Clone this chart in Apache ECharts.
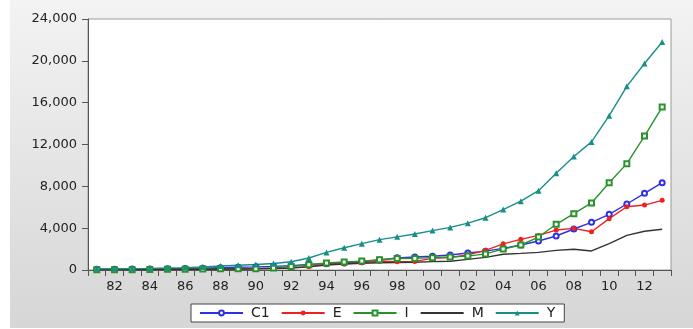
<!DOCTYPE html>
<html>
<head>
<meta charset="utf-8">
<script src="https://cdn.jsdelivr.net/npm/echarts@6/dist/echarts.min.js"></script>
<style>html,body{margin:0;padding:0;background:#fff;}#c{width:693px;height:329px;}</style>
</head>
<body>
<div id="c"></div>
<script>
var years = [];
for (var y = 1981; y <= 2013; y++) years.push(String(y).slice(2));
var seriesNames = ['C1', 'E', 'I', 'M', 'Y'];
var C1 = [65,75,85,100,125,140,170,220,270,300,350,420,540,600,680,780,960,1160,1240,1320,1430,1630,1800,2070,2390,2770,3250,3920,4560,5320,6310,7330,8350];
var E = [20,25,30,35,50,60,80,100,120,150,180,230,320,560,600,700,860,800,820,1110,1200,1450,1880,2500,2930,3310,3820,3980,3660,4910,6050,6210,6660];
var I = [25,30,35,45,60,70,90,120,110,130,200,330,500,680,760,850,980,1100,1110,1180,1250,1330,1540,2000,2390,3150,4370,5390,6410,8350,10170,12810,15580];
var M = [20,25,30,35,55,60,70,90,100,110,140,180,300,480,570,640,700,720,740,800,830,1020,1210,1500,1590,1690,1880,1980,1820,2520,3310,3700,3890];
var Y = [110,120,130,160,200,225,280,380,460,530,620,790,1150,1680,2130,2520,2900,3170,3440,3770,4070,4480,5000,5780,6580,7580,9250,10860,12250,14760,17560,19750,21800];
var yTicks = [0, 4000, 8000, 12000, 16000, 20000, 24000];

var font = 'DejaVu Sans';
var chart = echarts.init(document.getElementById('c'));
function mk(name, data, color, symbol, size) {
  return {
    name: name, type: 'line', data: data,
    symbol: symbol, symbolSize: size, showSymbol: symbol !== 'none',
    lineStyle: { color: color, width: 1.4 },
    itemStyle: { color: color, borderWidth: 1.1 },
    emphasis: { disabled: true }
  };
}
chart.setOption({
  animation: false,
  graphic: [{
    type: 'rect', left: 10, top: 0, z: -10,
    shape: { width: 683, height: 328 },
    style: { fill: new echarts.graphic.LinearGradient(0, 0, 0, 1, [
      { offset: 0, color: '#f3f3f3' }, { offset: 1, color: '#d6d6d6' }]) }
  }],
  grid: { left: 88, right: 22, top: 19, bottom: 59, show: true,
          backgroundColor: '#ffffff', borderColor: '#9a9a9a', borderWidth: 1 },
  legend: {
    data: [
      { name: 'C1' }, { name: 'E' }, { name: 'I' },
      { name: 'M', itemStyle: { opacity: 0 } }, { name: 'Y' }
    ],
    left: 191, top: 304, orient: 'horizontal',
    itemWidth: 43, itemHeight: 6, itemGap: 11,
    padding: [2, 9, 2, 8],
    backgroundColor: '#ffffff', borderColor: '#444', borderWidth: 1,
    selectedMode: false,
    textStyle: { fontFamily: font, fontSize: 14, color: '#222', padding: [0, 0, 0, 3] }
  },
  xAxis: {
    type: 'category', data: years, boundaryGap: true,
    axisLine: { lineStyle: { color: '#555', width: 1 } },
    axisTick: { show: true, interval: 0, length: 6, lineStyle: { color: '#555' } },
    axisLabel: { interval: function (i) { return i % 2 === 1; }, margin: 10,
                 fontFamily: font, fontSize: 13, color: '#222' },
    splitLine: { show: false }
  },
  yAxis: {
    type: 'value', min: yTicks[0], max: yTicks[yTicks.length - 1], interval: 4000,
    axisLine: { show: true, lineStyle: { color: '#555', width: 1 } },
    axisTick: { show: true, length: 6, lineStyle: { color: '#555' } },
    axisLabel: { margin: 11, fontFamily: font, fontSize: 13, color: '#222',
                 formatter: function (v) { return v.toLocaleString('en-US'); } },
    splitLine: { show: false }
  },
  series: [
    mk('C1', C1, '#2f2fe8', 'emptyCircle', 5),
    mk('E', E, '#ee2020', 'circle', 5),
    mk('I', I, '#2a922a', 'emptyRect', 5),
    mk('M', M, '#333333', 'none', 0),
    mk('Y', Y, '#178f88', 'triangle', 6)
  ]
});
</script>
</body>
</html>
